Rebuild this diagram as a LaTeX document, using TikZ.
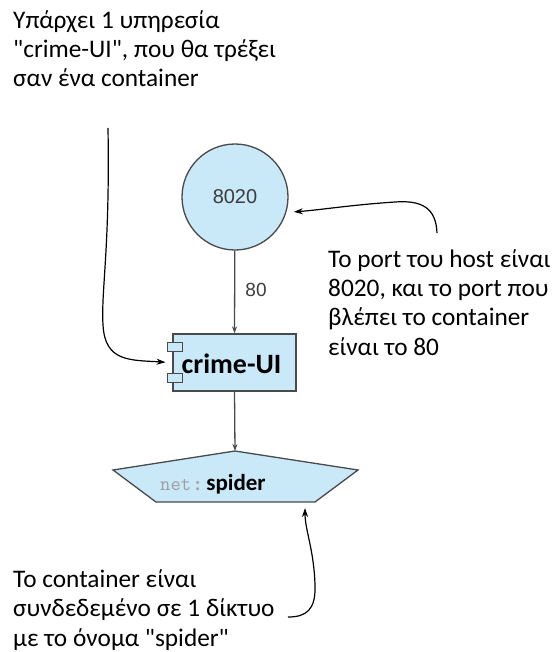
\documentclass[tikz,border=0pt]{standalone}
\usepackage{fontspec}
\setmainfont{Carlito}[Ligatures=TeXOff]
\newfontfamily\digitfont{Liberation Sans}
\usetikzlibrary{arrows.meta,calc}
\definecolor{boxfill}{HTML}{C9E8F8}
\definecolor{boxline}{HTML}{4A4A4A}
\definecolor{labelgray}{HTML}{3C3C3C}
\begin{document}
\begin{tikzpicture}[x=1pt,y=-1pt,
  flow/.style={draw=boxline,line width=1.3pt,-{Stealth[length=7pt,width=5pt]}},
  note/.style={draw=black,line width=1.2pt,-{Stealth[length=9pt,width=6pt]}},
  notetext/.style={align=left,inner sep=0pt,anchor=base west,
    font=\fontsize{25.3}{29.3}\selectfont,text=black},
  shapebox/.style={draw=boxline,line width=1.3pt,fill=boxfill}]
\path[use as bounding box] (0,0) rectangle (552,652);

% host port
\node[shapebox,circle,minimum size=106pt,inner sep=0pt,
  font=\digitfont\fontsize{20}{24}\selectfont,text=labelgray] (port) at (235,197) {8020};

% the crime-UI component
\node[shapebox,rectangle,minimum width=123pt,minimum height=57pt,inner sep=0pt] (crime) at (234.5,362.5) {};
\node[shapebox,rectangle,minimum width=15pt,minimum height=9pt,inner sep=0pt,line width=1pt] (tabA) at (174.5,347) {};
\node[shapebox,rectangle,minimum width=15pt,minimum height=9pt,inner sep=0pt,line width=1pt] (tabB) at (174.5,377.5) {};
\node[font=\bfseries\fontsize{28}{30}\selectfont,text=black,inner sep=0pt] (crimelabel) at (231.5,364) {crime-UI};

% the spider network
\coordinate (pa) at (235,451);
\coordinate (pl) at (113,470);
\coordinate (pbl) at (156,502);
\coordinate (pbr) at (315,502);
\coordinate (pr) at (358,470);
\draw[shapebox,line join=miter] (pa) -- (pr) -- (pbr) -- (pbl) -- (pl) -- cycle;
\node[inner sep=0pt,anchor=base west] (net) at (160,490)
  {{\ttfamily\fontsize{20}{20}\selectfont\color{gray!75}net\hspace{4pt}}{\color{gray!75}\bfseries\fontsize{19}{20}\selectfont:}\hspace{6pt}{\bfseries\fontsize{23}{24}\selectfont spider}};

% flow connectors
\draw[flow] (port) -- (crime.north);
\node[font=\digitfont\fontsize{19}{22}\selectfont,text=labelgray,inner sep=0pt] (portlabel) at (256,290) {80};
\draw[flow] (crime.south) -- (pa);

% notes (anchored at the baseline of their last line)
\node[notetext] (notetop) at (13,87) {Υπάρχει 1 υπηρεσία\\"crime-UI", που θα τρέξει\\σαν ένα container};
\node[notetext] (noteright) at (328,355) {Το port του host είναι\\8020, και το port που\\βλέπει το container\\είναι το 80};
\node[notetext] (notebottom) at (13,646) {Το container είναι\\συνδεδεμένο σε 1 δίκτυο\\με το όνομα "spider"};

\coordinate (topstart) at (108,128);
\coordinate (rightstart) at (437,233);
\coordinate (bottomstart) at (288,617);

\draw[note] (topstart) .. controls (110,250) and (101,290) .. (103,325)
  .. controls (105,362) and (130,360) .. ($(tabA.west)!0.5!(tabB.west)+(-1,0)$);
\draw[note] (rightstart) .. controls (436,208) and (422,200) .. (395,202)
  .. controls (350,205) and (320,210) .. ($(port.-15)+(7,1)$);
\draw[note] (bottomstart) .. controls (306,617) and (316,610) .. (315,585)
  .. controls (314,550) and (305,530) .. ($(pbr)+(-10,6)$);
\end{tikzpicture}
\end{document}
